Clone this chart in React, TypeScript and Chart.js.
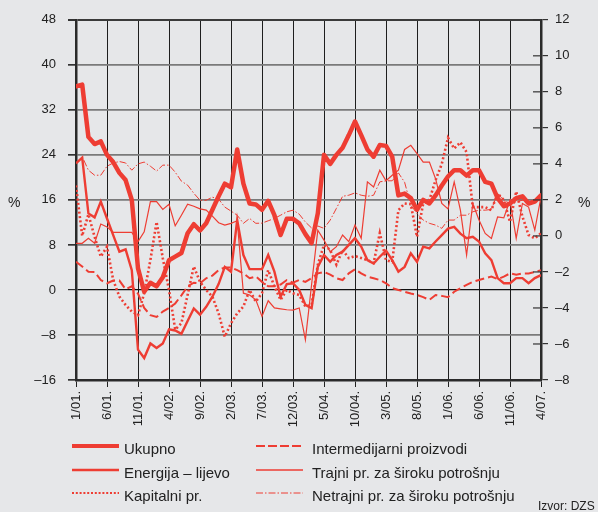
import React, { useEffect, useRef } from 'react';
import { Chart, registerables } from 'chart.js';

Chart.register(...registerables);

const FONT = '"Liberation Sans", Arial, Helvetica, sans-serif';
const RED = '#ee3d33';
const BG = '#e6e7e9';

// x ticks every 5 months, monthly data from 1/01 to 4/07
const xTickLabels = ['1/01.', '6/01.', '11/01.', '4/02.', '9/02.', '2/03.', '7/03.', '12/03.', '5/04.', '10/04.', '3/05.', '8/05.', '1/06.', '6/06.', '11/06.', '4/07.'];

// right axis (%)
const ukupno = [8.3, 8.4, 5.5, 5.1, 5.25, 4.5, 4.1, 3.5, 3.1, 2.0,
  -1.8, -3.1, -2.6, -2.8, -2.3, -1.35, -1.15, -0.95, 0.15, 0.65,
  0.3, 0.7, 1.45, 2.2, 2.9, 2.7, 4.8, 2.9, 1.8, 1.75,
  1.45, 1.95, 1.15, 0.05, 0.95, 0.95, 0.7, 0.1, -0.4, 1.25,
  4.5, 4.0, 4.5, 4.9, 5.6, 6.35, 5.6, 4.8, 4.4, 5.05,
  5.0, 4.4, 2.25, 2.35, 2.1, 1.45, 2.0, 1.8, 2.25, 2.8,
  3.3, 3.65, 3.65, 3.35, 3.65, 3.65, 3.0, 2.9, 2.1, 1.65,
  1.8, 2.1, 2.2, 1.8, 1.9, 2.25];

// left axis (%)
const energija = [22.5, 23.5, 13.6, 12.9, 15.7, 12.7, 9.75, 6.8, 7.2, 3.5,
  -10.6, -12.1, -9.5, -10.3, -9.5, -7.0, -7.2, -7.8, -5.5, -3.3,
  -4.4, -3.0, -1.2, 1.05, 4.1, 3.25, 12.4, 6.2, 3.7, 3.7,
  3.7, 6.2, 3.25, -1.2, 1.05, 1.2, 0, -2.65, -3.25, 4.1,
  6.2, 5.0, 6.2, 6.8, 8.0, 9.2, 7.7, 5.3, 4.7, 5.9,
  7.0, 5.3, 3.25, 4.1, 6.5, 5.0, 7.7, 7.4, 8.6, 9.75,
  10.9, 11.2, 10.0, 9.2, 9.45, 8.6, 6.5, 5.3, 2.1, 1.2,
  1.2, 2.1, 2.1, 1.2, 2.1, 2.65];

const kapitalni = [2.8, 0.0, 1.2, -0.05, -1.15, -0.6, -2.45, -3.37, -3.83, -4.2,
  -4.4, -3.18, -1.34, 0.78, -1.24, -3.0, -5.2, -4.85, -3.28, -1.7,
  -2.55, -3.0, -3.37, -4.3, -5.6, -4.85, -4.3, -3.92, -3.0, -3.65,
  -3.18, -1.9, -2.8, -3.55, -3.0, -3.18, -3.28, -3.92, -3.83, -1.6,
  -0.5, -0.78, -1.6, -0.78, -1.23, -1.12, -1.23, -1.34, -1.5, 0.16,
  -1.34, -1.45, 1.43, 1.8, 1.76, -0.05, 1.8, 2.0, 3.1, 4.0,
  5.45, 4.85, 5.2, 4.65, 1.6, 1.6, 1.6, 1.43, 2.36, 2.0,
  0.78, 2.47, 1.08, 0.05, -0.13, 0.15];

const intermedijarni = [-1.43, -1.7, -1.99, -2.0, -2.45, -2.63, -2.48, -2.48, -2.96, -2.8,
  -3.2, -4.0, -4.4, -4.5, -4.2, -4.0, -3.75, -3.3, -2.8, -2.6,
  -2.63, -2.35, -2.2, -1.9, -1.75, -1.75, -1.9, -2.08, -2.35, -2.25,
  -2.55, -2.8, -2.8, -2.7, -2.45, -2.6, -2.45, -2.55, -2.35, -2.08,
  -2.0, -2.15, -2.35, -2.45, -2.08, -1.85, -2.08, -2.26, -2.35, -2.45,
  -2.63, -2.9, -3.0, -3.1, -3.2, -3.28, -3.4, -3.55, -3.28, -3.33,
  -3.4, -3.1, -2.9, -2.72, -2.55, -2.45, -2.35, -2.26, -2.4, -2.26,
  -2.08, -2.15, -2.08, -2.08, -2.0, -1.9];

const trajni = [-0.41, -0.41, -0.13, -0.41, 0.66, 0.5, 0.2, 0.2, 0.2, 0.2,
  -0.32, 0.23, 1.9, 1.9, 1.47, 1.76, 0.56, 1.15, 1.76, 1.65,
  1.5, 1.43, 1.1, 0.73, 0.6, 0.7, 0.84, -3.18, -3.28, -3.55,
  -4.47, -3.6, -4.0, -4.05, -4.1, -4.12, -4.0, -5.77, -2.7, 0.32,
  -0.23, -0.88, -0.6, 0.05, -0.32, 0.6, -0.13, 3.0, 2.72, 3.65,
  3.06, 3.37, 3.65, 4.8, 5.03, 4.57, 4.1, 4.1, 3.17, 1.8,
  1.5, 3.0, 1.43, -1.06, 1.8, 0.88, 0.14, -0.14, 1.06, 1.0,
  1.98, -0.14, 1.8, 1.6, 0.32, 2.17];

const netrajni = [4.05, 4.4, 3.65, 3.37, 3.37, 3.87, 4.05, 4.13, 4.05, 3.65,
  4.0, 4.1, 3.87, 3.6, 3.93, 3.93, 3.54, 3.04, 2.82, 2.37,
  1.98, 1.98, 2.15, 2.04, 1.6, 1.38, 1.15, 0.7, 0.97, 0.7,
  0.71, 0.84, 0.97, 1.15, 1.34, 1.43, 1.21, 0.77, 0.44, 0.55,
  0.42, 0.88, 1.53, 2.2, 2.26, 2.39, 2.26, 2.2, 2.26, 3.0,
  3.06, 3.06, 3.5, 2.98, 1.71, 1.25, 0.88, 0.7, 0.6, 0.42,
  0.88, 0.88, 1.15, 1.15, 1.34, 1.43, 1.43, 1.47, 2.36, 1.98,
  1.8, 1.9, 1.98, 1.9, 1.98, 1.98];

const toPts = (arr: number[]) => arr.map((v, i) => ({ x: i, y: v }));
const fmt = (v: number) => String(v).replace('-', '\u2013');

const rightInnerTicks = {
  id: 'rightInnerTicks',
  afterDraw(chart: any) {
    const s = chart.scales.y1;
    const ctx = chart.ctx;
    ctx.save();
    ctx.strokeStyle = '#333';
    ctx.lineWidth = 1.2;
    s.ticks.forEach((t: any) => {
      const y = s.getPixelForValue(t.value);
      ctx.beginPath();
      ctx.moveTo(s.left - 8, y);
      ctx.lineTo(s.left, y);
      ctx.stroke();
    });
    ctx.restore();
  },
};

type LegendProps = { x: number; y: number; tx: number; label: string; width: number; dash?: string; cap?: 'butt' | 'round' };

function LegendItem({ x, y, tx, label, width, dash, cap }: LegendProps) {
  return (
    <>
      <svg width={47} height={10} style={{ position: 'absolute', left: x, top: y - 5 }}>
        <line x1={0} y1={5} x2={47} y2={5} stroke={RED} strokeWidth={width} strokeDasharray={dash} strokeLinecap={cap || 'butt'} />
      </svg>
      <div style={{ position: 'absolute', left: tx, top: y - 4.6, fontSize: 15, lineHeight: '15px', color: '#222', whiteSpace: 'nowrap' }}>{label}</div>
    </>
  );
}

export default function App() {
  const ref = useRef<HTMLCanvasElement | null>(null);

  useEffect(() => {
    document.body.style.margin = '0';
    document.body.style.background = BG;
    Chart.defaults.font.family = FONT;
    const chart = new Chart(ref.current as HTMLCanvasElement, {
      type: 'line',
      data: {
        datasets: [
          { label: 'Ukupno', data: toPts(ukupno), yAxisID: 'y1', borderColor: RED, borderWidth: 4.5, borderJoinStyle: 'round', borderCapStyle: 'round', pointRadius: 0 },
          { label: 'Energija – lijevo', data: toPts(energija), yAxisID: 'y', borderColor: RED, borderWidth: 2.4, pointRadius: 0 },
          { label: 'Kapitalni pr.', data: toPts(kapitalni), yAxisID: 'y1', borderColor: RED, borderWidth: 2.6, borderDash: [2, 2.4], pointRadius: 0 },
          { label: 'Intermedijarni proizvodi', data: toPts(intermedijarni), yAxisID: 'y1', borderColor: RED, borderWidth: 2, borderDash: [9, 4], pointRadius: 0 },
          { label: 'Trajni pr. za široku potrošnju', data: toPts(trajni), yAxisID: 'y1', borderColor: RED, borderWidth: 1.2, pointRadius: 0 },
          { label: 'Netrajni pr. za široku potrošnju', data: toPts(netrajni), yAxisID: 'y1', borderColor: RED, borderWidth: 1, borderDash: [7, 2, 1.5, 2], pointRadius: 0 },
        ],
      },
      options: {
        animation: false,
        responsive: false,
        devicePixelRatio: 1,
        layout: { padding: { top: 19, left: 0, right: 0, bottom: 0 } },
        plugins: { legend: { display: false }, tooltip: { enabled: false }, title: { display: false } },
        elements: { line: { tension: 0 } },
        scales: {
          x: {
            type: 'linear',
            min: 0,
            max: 75,
            afterFit: (s: any) => { s.height = 132; },
            ticks: {
              stepSize: 5,
              autoSkip: false,
              maxRotation: 90,
              minRotation: 90,
              padding: 4,
              color: '#222',
              font: { size: 13, family: FONT },
              callback: (v: any) => xTickLabels[Math.round(Number(v) / 5)] ?? '',
            },
            grid: { color: '#1e1e1e', lineWidth: 1, tickLength: 7, tickColor: '#222' },
            border: { display: true, color: '#2a2a2a', width: 2.5 },
          },
          y: {
            position: 'left',
            min: -16,
            max: 48,
            afterFit: (s: any) => { s.width = 76; },
            ticks: { stepSize: 8, padding: 12, color: '#222', font: { size: 13, family: FONT }, callback: (v: any) => fmt(v) },
            grid: {
              color: (c: any) => (c.tick && c.tick.value === 0 ? '#111' : c.tick && c.tick.value === 48 ? '#3a3a3a' : '#7a7a7a'),
              lineWidth: (c: any) => (c.tick && c.tick.value === 0 ? 1.2 : c.tick && c.tick.value === 48 ? 2 : 1.7),
              tickLength: 8,
              tickColor: '#333',
            },
            border: { display: true, color: '#2a2a2a', width: 2.5 },
          },
          y1: {
            position: 'right',
            min: -8,
            max: 12,
            afterFit: (s: any) => { s.width = 57; },
            ticks: { stepSize: 2, padding: 7, color: '#222', font: { size: 13, family: FONT }, callback: (v: any) => fmt(v) },
            grid: { drawOnChartArea: false, tickLength: 7, color: '#333', lineWidth: 1.2 },
            border: { display: true, color: '#2a2a2a', width: 2.5 },
          },
        },
      } as any,
      plugins: [rightInnerTicks],
    });
    return () => chart.destroy();
  }, []);

  return (
    <div style={{ position: 'fixed', left: 0, top: 0, width: 598, height: 512, background: BG, fontFamily: FONT, overflow: 'hidden' }}>
      <canvas ref={ref} width={598} height={512} style={{ position: 'absolute', left: 0, top: 0, width: 598, height: 512 }} />
      <div style={{ position: 'absolute', left: 8, top: 195, fontSize: 14, lineHeight: '14px', color: '#222' }}>%</div>
      <div style={{ position: 'absolute', left: 578, top: 195, fontSize: 14, lineHeight: '14px', color: '#222' }}>%</div>
      <LegendItem x={72} y={446} tx={124} label="Ukupno" width={4} />
      <LegendItem x={72} y={469.5} tx={124} label="Energija – lijevo" width={2.6} />
      <LegendItem x={72} y={492.5} tx={124} label="Kapitalni pr." width={2.2} dash="2 1.8" />
      <LegendItem x={256} y={446} tx={312} label="Intermedijarni proizvodi" width={1.8} dash="9 3" />
      <LegendItem x={256} y={469.5} tx={312} label="Trajni pr. za široku potrošnju" width={1.3} />
      <LegendItem x={256} y={492.5} tx={312} label="Netrajni pr. za široku potrošnju" width={1} dash="7 2 1.5 2" />
      <div style={{ position: 'absolute', left: 538, top: 500, fontSize: 12, lineHeight: '12px', color: '#222', whiteSpace: 'nowrap' }}>Izvor: DZS</div>
    </div>
  );
}
